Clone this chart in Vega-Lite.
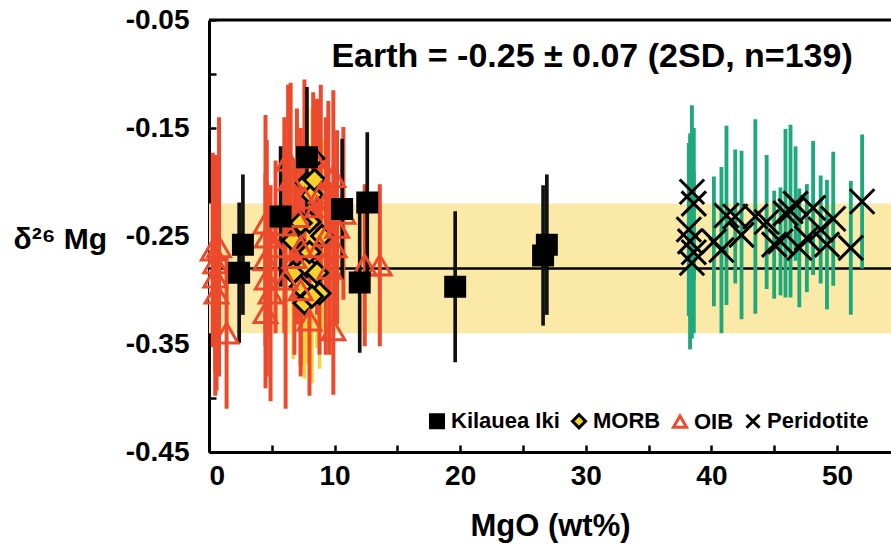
{
  "$schema": "https://vega.github.io/schema/vega-lite/v6.json",
  "width": 682,
  "height": 432,
  "autosize": "none",
  "padding": {"left": 209, "top": 20, "right": 0, "bottom": 99},
  "background": "white",
  "config": {"view": {"stroke": null}, "font": "Liberation Sans"},
  "datasets": {
    "band": [{"x0": 0, "x1": 54.3, "lo": -0.34, "hi": -0.22, "m": -0.28, "top": -0.05}],
    "note": [{"x": 30.5, "y": -0.084, "t": "Earth = -0.25 ± 0.07 (2SD, n=139)"}],
    "pts": [
      {"g": "Peridotite", "x": 38.45, "y": -0.209, "lo": -0.289, "hi": -0.129},
      {"g": "Peridotite", "x": 38.6, "y": -0.22, "lo": -0.29, "hi": -0.15},
      {"g": "Peridotite", "x": 38.2, "y": -0.244, "lo": -0.324, "hi": -0.164},
      {"g": "Peridotite", "x": 38.3, "y": -0.255, "lo": -0.355, "hi": -0.155},
      {"g": "Peridotite", "x": 38.6, "y": -0.265, "lo": -0.34, "hi": -0.19},
      {"g": "Peridotite", "x": 38.45, "y": -0.275, "lo": -0.345, "hi": -0.205},
      {"g": "Peridotite", "x": 40.2, "y": -0.255, "lo": -0.315, "hi": -0.195},
      {"g": "Peridotite", "x": 40.8, "y": -0.263, "lo": -0.34, "hi": -0.186},
      {"g": "Peridotite", "x": 41.2, "y": -0.231, "lo": -0.314, "hi": -0.148},
      {"g": "Peridotite", "x": 41.9, "y": -0.232, "lo": -0.294, "hi": -0.17},
      {"g": "Peridotite", "x": 42.4, "y": -0.249, "lo": -0.327, "hi": -0.171},
      {"g": "Peridotite", "x": 43.5, "y": -0.232, "lo": -0.322, "hi": -0.142},
      {"g": "Peridotite", "x": 44.4, "y": -0.237, "lo": -0.299, "hi": -0.175},
      {"g": "Peridotite", "x": 45.0, "y": -0.258, "lo": -0.308, "hi": -0.208},
      {"g": "Peridotite", "x": 45.5, "y": -0.255, "lo": -0.305, "hi": -0.205},
      {"g": "Peridotite", "x": 45.9, "y": -0.229, "lo": -0.307, "hi": -0.151},
      {"g": "Peridotite", "x": 46.3, "y": -0.227, "lo": -0.307, "hi": -0.147},
      {"g": "Peridotite", "x": 46.7, "y": -0.22, "lo": -0.273, "hi": -0.167},
      {"g": "Peridotite", "x": 47.0, "y": -0.261, "lo": -0.316, "hi": -0.206},
      {"g": "Peridotite", "x": 47.6, "y": -0.252, "lo": -0.302, "hi": -0.202},
      {"g": "Peridotite", "x": 48.1, "y": -0.224, "lo": -0.286, "hi": -0.162},
      {"g": "Peridotite", "x": 48.7, "y": -0.244, "lo": -0.294, "hi": -0.194},
      {"g": "Peridotite", "x": 49.2, "y": -0.258, "lo": -0.318, "hi": -0.198},
      {"g": "Peridotite", "x": 49.7, "y": -0.234, "lo": -0.296, "hi": -0.172},
      {"g": "Peridotite", "x": 51.1, "y": -0.261, "lo": -0.323, "hi": -0.199},
      {"g": "Peridotite", "x": 52.0, "y": -0.218, "lo": -0.28, "hi": -0.156},
      {"g": "MORB", "x": 6.7, "y": -0.284, "lo": -0.364, "hi": -0.204},
      {"g": "MORB", "x": 7.8, "y": -0.278, "lo": -0.368, "hi": -0.188},
      {"g": "MORB", "x": 8.6, "y": -0.284, "lo": -0.354, "hi": -0.214},
      {"g": "MORB", "x": 7.3, "y": -0.297, "lo": -0.377, "hi": -0.217},
      {"g": "MORB", "x": 8.8, "y": -0.303, "lo": -0.373, "hi": -0.233},
      {"g": "MORB", "x": 7.6, "y": -0.312, "lo": -0.382, "hi": -0.242},
      {"g": "MORB", "x": 8.2, "y": -0.306, "lo": -0.386, "hi": -0.226},
      {"g": "MORB", "x": 7.8, "y": -0.201, "lo": -0.276, "hi": -0.126},
      {"g": "MORB", "x": 8.2, "y": -0.212, "lo": -0.292, "hi": -0.132},
      {"g": "MORB", "x": 8.0, "y": -0.237, "lo": -0.307, "hi": -0.167},
      {"g": "MORB", "x": 6.7, "y": -0.254, "lo": -0.324, "hi": -0.184},
      {"g": "MORB", "x": 7.3, "y": -0.238, "lo": -0.318, "hi": -0.158},
      {"g": "MORB", "x": 8.3, "y": -0.178, "lo": -0.238, "hi": -0.118},
      {"g": "MORB", "x": 8.4, "y": -0.198, "lo": -0.268, "hi": -0.128},
      {"g": "MORB", "x": 8.0, "y": -0.265, "lo": -0.365, "hi": -0.165},
      {"g": "MORB", "x": 9.0, "y": -0.25, "lo": -0.34, "hi": -0.16},
      {"g": "OIB", "x": 0.3, "y": -0.263, "lo": -0.353, "hi": -0.173},
      {"g": "OIB", "x": 0.5, "y": -0.275, "lo": -0.375, "hi": -0.175},
      {"g": "OIB", "x": 0.5, "y": -0.288, "lo": -0.398, "hi": -0.178},
      {"g": "OIB", "x": 0.6, "y": -0.303, "lo": -0.393, "hi": -0.213},
      {"g": "OIB", "x": 1.4, "y": -0.34, "lo": -0.41, "hi": -0.27},
      {"g": "OIB", "x": 0.8, "y": -0.26, "lo": -0.38, "hi": -0.14},
      {"g": "OIB", "x": 4.5, "y": -0.238, "lo": -0.338, "hi": -0.138},
      {"g": "OIB", "x": 4.6, "y": -0.251, "lo": -0.341, "hi": -0.161},
      {"g": "OIB", "x": 4.5, "y": -0.272, "lo": -0.352, "hi": -0.192},
      {"g": "OIB", "x": 4.6, "y": -0.29, "lo": -0.38, "hi": -0.2},
      {"g": "OIB", "x": 4.5, "y": -0.321, "lo": -0.391, "hi": -0.251},
      {"g": "OIB", "x": 4.9, "y": -0.303, "lo": -0.403, "hi": -0.203},
      {"g": "OIB", "x": 5.3, "y": -0.26, "lo": -0.34, "hi": -0.18},
      {"g": "OIB", "x": 6.0, "y": -0.24, "lo": -0.34, "hi": -0.14},
      {"g": "OIB", "x": 6.3, "y": -0.18, "lo": -0.25, "hi": -0.11},
      {"g": "OIB", "x": 6.5, "y": -0.198, "lo": -0.288, "hi": -0.108},
      {"g": "OIB", "x": 7.0, "y": -0.232, "lo": -0.332, "hi": -0.132},
      {"g": "OIB", "x": 7.3, "y": -0.26, "lo": -0.37, "hi": -0.15},
      {"g": "OIB", "x": 7.3, "y": -0.3, "lo": -0.38, "hi": -0.22},
      {"g": "OIB", "x": 6.8, "y": -0.27, "lo": -0.36, "hi": -0.18},
      {"g": "OIB", "x": 8.3, "y": -0.177, "lo": -0.237, "hi": -0.117},
      {"g": "OIB", "x": 8.6, "y": -0.223, "lo": -0.323, "hi": -0.123},
      {"g": "OIB", "x": 8.8, "y": -0.26, "lo": -0.36, "hi": -0.16},
      {"g": "OIB", "x": 8.0, "y": -0.328, "lo": -0.398, "hi": -0.258},
      {"g": "OIB", "x": 9.9, "y": -0.195, "lo": -0.275, "hi": -0.115},
      {"g": "OIB", "x": 10.2, "y": -0.242, "lo": -0.332, "hi": -0.152},
      {"g": "OIB", "x": 10.7, "y": -0.229, "lo": -0.309, "hi": -0.149},
      {"g": "OIB", "x": 9.9, "y": -0.337, "lo": -0.397, "hi": -0.277},
      {"g": "OIB", "x": 9.3, "y": -0.25, "lo": -0.36, "hi": -0.14},
      {"g": "OIB", "x": 9.6, "y": -0.28, "lo": -0.36, "hi": -0.2},
      {"g": "OIB", "x": 10.0, "y": -0.26, "lo": -0.33, "hi": -0.19},
      {"g": "OIB", "x": 12.4, "y": -0.277, "lo": -0.352, "hi": -0.202},
      {"g": "OIB", "x": 13.6, "y": -0.277, "lo": -0.352, "hi": -0.202},
      {"g": "OIB", "x": 7.6, "y": -0.215, "lo": -0.325, "hi": -0.105},
      {"g": "OIB", "x": 8.9, "y": -0.21, "lo": -0.31, "hi": -0.11},
      {"g": "OIB", "x": 6.1, "y": -0.29, "lo": -0.41, "hi": -0.17},
      {"g": "OIB", "x": 9.5, "y": -0.215, "lo": -0.305, "hi": -0.125},
      {"g": "Kilauea Iki", "x": 2.4, "y": -0.284, "lo": -0.349, "hi": -0.219},
      {"g": "Kilauea Iki", "x": 2.7, "y": -0.258, "lo": -0.323, "hi": -0.193},
      {"g": "Kilauea Iki", "x": 5.7, "y": -0.232, "lo": -0.297, "hi": -0.167},
      {"g": "Kilauea Iki", "x": 7.8, "y": -0.177, "lo": -0.242, "hi": -0.112},
      {"g": "Kilauea Iki", "x": 10.6, "y": -0.225, "lo": -0.29, "hi": -0.16},
      {"g": "Kilauea Iki", "x": 12.0, "y": -0.293, "lo": -0.358, "hi": -0.228},
      {"g": "Kilauea Iki", "x": 12.6, "y": -0.219, "lo": -0.284, "hi": -0.154},
      {"g": "Kilauea Iki", "x": 19.6, "y": -0.297, "lo": -0.367, "hi": -0.227},
      {"g": "Kilauea Iki", "x": 26.6, "y": -0.268, "lo": -0.333, "hi": -0.203},
      {"g": "Kilauea Iki", "x": 26.9, "y": -0.258, "lo": -0.323, "hi": -0.193}
    ]
  },
  "resolve": {"scale": {"x": "shared", "y": "shared"}},
  "layer": [
    {
      "data": {"name": "band"},
      "mark": {"type": "rect", "color": "#fbeaa7"},
      "encoding": {
        "x": {
          "field": "x0", "type": "quantitative",
          "scale": {"domain": [0, 54.3], "nice": false, "zero": false},
          "axis": {
            "values": [0, 5, 10, 15, 20, 25, 30, 35, 40, 45, 50],
            "labelExpr": "datum.value % 10 == 0 ? datum.label : ''",
            "grid": false, "tickSize": -7, "tickWidth": 2.5, "tickColor": "black",
            "domainColor": "black", "domainWidth": 3,
            "labelFont": "Liberation Sans", "labelFontWeight": "bold", "labelFontSize": 28, "labelColor": "black",
            "labelPadding": 17,
            "title": "MgO (wt%)", "titleFont": "Liberation Sans", "titleFontWeight": "bold", "titleFontSize": 31, "titleColor": "black",
            "titlePadding": 21
          }
        },
        "x2": {"field": "x1"},
        "y": {
          "field": "lo", "type": "quantitative",
          "scale": {"domain": [-0.45, -0.05], "nice": false, "zero": false},
          "axis": {
            "values": [-0.45, -0.4, -0.35, -0.3, -0.25, -0.2, -0.15, -0.1, -0.05],
            "labelExpr": "abs(round(datum.value * 100)) % 10 == 5 ? replace(format(datum.value, '.2f'), '\u2212', '-') : ''",
            "grid": false, "tickSize": -7, "tickWidth": 2.5, "tickColor": "black",
            "domainColor": "black", "domainWidth": 3,
            "labelFont": "Liberation Sans", "labelFontWeight": "bold", "labelFontSize": 28, "labelColor": "black",
            "labelPadding": 27,
            "title": "δ²⁶ Mg", "titleFont": "Liberation Sans", "titleFontWeight": "bold", "titleFontSize": 30, "titleColor": "black",
            "titleAngle": 0, "titleAlign": "left", "titleBaseline": "middle", "titleX": -196, "titleY": 219
          }
        },
        "y2": {"field": "hi"}
      }
    },
    {
      "data": {"name": "band"},
      "mark": {"type": "rule", "color": "black", "strokeWidth": 2.5},
      "encoding": {
        "x": {"field": "x0", "type": "quantitative"},
        "x2": {"field": "x1"},
        "y": {"field": "m", "type": "quantitative"}
      }
    },
    {
      "data": {"name": "band"},
      "mark": {"type": "rule", "color": "black", "strokeWidth": 3},
      "encoding": {
        "x": {"field": "x0", "type": "quantitative"},
        "x2": {"field": "x1"},
        "y": {"field": "top", "type": "quantitative"}
      }
    },
    {
      "data": {"name": "pts"},
      "mark": {"type": "rule"},
      "encoding": {
        "x": {"field": "x", "type": "quantitative"},
        "y": {"field": "lo", "type": "quantitative"},
        "y2": {"field": "hi"},
        "color": {
          "field": "g", "type": "nominal", "legend": null,
          "scale": {"domain": ["Peridotite", "OIB", "MORB", "Kilauea Iki"], "range": ["#1ea97c", "#ec4a2c", "#f7d53a", "#111111"]}
        },
        "strokeWidth": {
          "field": "g", "type": "nominal", "legend": null,
          "scale": {"domain": ["OIB", "Peridotite", "Kilauea Iki", "MORB"], "range": [4, 3.5, 5, 4]}
        }
      }
    },
    {
      "data": {"name": "pts"},
      "mark": {"type": "point", "strokeWidth": 3, "opacity": 1},
      "encoding": {
        "x": {"field": "x", "type": "quantitative"},
        "y": {"field": "y", "type": "quantitative"},
        "shape": {
          "field": "g", "type": "nominal",
          "scale": {"domain": ["Kilauea Iki", "MORB", "OIB", "Peridotite"], "range": ["square", "diamond", "triangle-up", "M-1,-1L1,1M-1,1L1,-1"]},
          "legend": {
            "title": null, "orient": "none", "legendX": 217, "legendY": 390, "direction": "horizontal", "columns": 4,
            "labelFont": "Liberation Sans", "labelFontWeight": "bold", "labelFontSize": 22, "labelColor": "black",
            "symbolSize": 170, "symbolStrokeWidth": 3, "labelOffset": 3, "columnPadding": 6,
            "encode": {"labels": {"update": {"fontSize": {"signal": "datum.label == 'Kilauea Iki' ? 24 : 22"}}}}
          }
        },
        "fill": {
          "field": "g", "type": "nominal",
          "scale": {"domain": ["Kilauea Iki", "MORB", "OIB", "Peridotite"], "range": ["#000000", "#f2d22b", "transparent", "transparent"]}
        },
        "stroke": {
          "field": "g", "type": "nominal",
          "scale": {"domain": ["Kilauea Iki", "MORB", "OIB", "Peridotite"], "range": ["#000000", "#000000", "#ec4a2c", "#000000"]}
        },
        "size": {
          "field": "g", "type": "nominal", "legend": null,
          "scale": {"domain": ["Peridotite", "OIB", "MORB", "Kilauea Iki"], "range": [600, 360, 270, 380]}
        }
      }
    },
    {
      "data": {"name": "note"},
      "mark": {"type": "text", "font": "Liberation Sans", "fontWeight": "bold", "fontSize": 34, "color": "black", "align": "center", "baseline": "middle"},
      "encoding": {
        "x": {"field": "x", "type": "quantitative"},
        "y": {"field": "y", "type": "quantitative"},
        "text": {"field": "t"}
      }
    }
  ]
}
